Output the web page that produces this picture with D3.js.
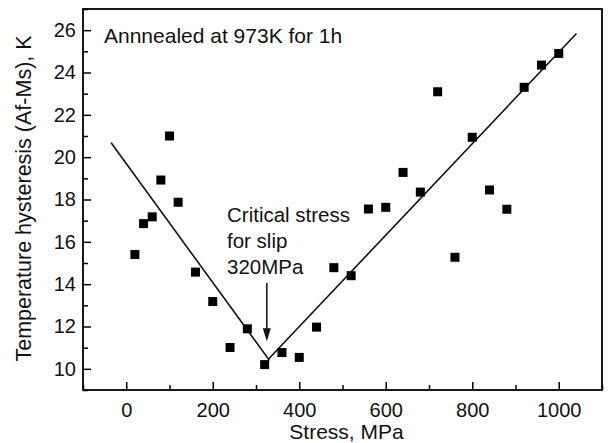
<!DOCTYPE html>
<html>
<head>
<meta charset="utf-8">
<script src="https://cdn.jsdelivr.net/npm/d3@7"></script>
<style>
  html, body { margin: 0; padding: 0; background: #fff; }
  svg { display: block; font-family: "Liberation Sans", Arial, Helvetica, sans-serif; }
</style>
</head>
<body>
<svg id="chart" width="609" height="443"></svg>
<script>
// ---- data ----
const stress = [20, 40, 60, 80, 100, 120, 160, 200, 240, 280, 320, 360, 400, 440, 480, 520, 560, 600, 640, 680, 720, 760, 800, 840, 880, 920, 960, 1000];
const hysteresis = [15.4, 16.86, 17.18, 18.92, 21.0, 17.87, 14.57, 13.18, 11.01, 11.89, 10.2, 10.77, 10.54, 11.97, 14.78, 14.4, 17.55, 17.63, 19.28, 18.35, 23.09, 15.27, 20.94, 18.45, 17.54, 23.3, 24.35, 24.9];
const fitLeftX = [-35, 331];
const fitLeftY = [20.68, 10.4];
const fitRightX = [328, 1041];
const fitRightY = [10.44, 25.84];
const arrowX = [325, 325];
const arrowY = [14.05, 11.3];
const xTicks = [0, 200, 400, 600, 800, 1000];
const xMinor = [-100, 100, 300, 500, 700, 900, 1100];
const yTicks = [10, 12, 14, 16, 18, 20, 22, 24, 26];
const yMinor = [9, 11, 13, 15, 17, 19, 21, 23, 25, 27];
const titleText = "Annnealed at 973K for 1h";
const noteLines = ["Critical stress", "for slip", "320MPa"];
const xLabel = "Stress, MPa";
const yLabel = "Temperature hysteresis (Af-Ms), K";

// ---- layout ----
const L = 83, R = 602, T = 9, B = 390;
const svg = d3.select("#chart");
const x = d3.scaleLinear().domain([-100, 1100]).range([L, R]);
const y = d3.scaleLinear().domain([9, 27]).range([B, T]);

// minor ticks
svg.append("g").attr("transform", `translate(0,${B})`)
  .call(d3.axisBottom(x).tickValues(xMinor).tickSize(-5).tickFormat(""))
  .call(g => g.select(".domain").remove())
  .selectAll("line").attr("stroke", "#000").attr("stroke-width", 1.5);
svg.append("g").attr("transform", `translate(${L},0)`)
  .call(d3.axisLeft(y).tickValues(yMinor).tickSize(-5).tickFormat(""))
  .call(g => g.select(".domain").remove())
  .selectAll("line").attr("stroke", "#000").attr("stroke-width", 1.5);

// major ticks
const xa = svg.append("g").attr("transform", `translate(0,${B})`)
  .call(d3.axisBottom(x).tickValues(xTicks).tickSize(-8).tickPadding(13).tickFormat(d3.format("d")));
xa.select(".domain").remove();
xa.selectAll("line").attr("stroke", "#000").attr("stroke-width", 1.5);
xa.selectAll("text").attr("font-size", 20).attr("fill", "#111").attr("font-family", "Liberation Sans, Arial, sans-serif");

const ya = svg.append("g").attr("transform", `translate(${L},0)`)
  .call(d3.axisLeft(y).tickValues(yTicks).tickSize(-8).tickPadding(7).tickFormat(d3.format("d")));
ya.select(".domain").remove();
ya.selectAll("line").attr("stroke", "#000").attr("stroke-width", 1.5);
ya.selectAll("text").attr("font-size", 20).attr("fill", "#111").attr("font-family", "Liberation Sans, Arial, sans-serif");

// frame
svg.append("rect").attr("x", L).attr("y", T).attr("width", R - L).attr("height", B - T)
  .attr("fill", "none").attr("stroke", "#000").attr("stroke-width", 1.8);

// fit lines
const line = d3.line().x(d => x(d[0])).y(d => y(d[1]));
svg.append("path").datum(d3.zip(fitLeftX, fitLeftY)).attr("d", line)
  .attr("fill", "none").attr("stroke", "#111").attr("stroke-width", 1.6);
svg.append("path").datum(d3.zip(fitRightX, fitRightY)).attr("d", line)
  .attr("fill", "none").attr("stroke", "#111").attr("stroke-width", 1.6);

// points
const sz = 9;
svg.append("g").selectAll("rect").data(d3.zip(stress, hysteresis)).join("rect")
  .attr("x", d => x(d[0]) - sz / 2).attr("y", d => y(d[1]) - sz / 2)
  .attr("width", sz).attr("height", sz).attr("fill", "#000");

// arrow
const ax0 = x(arrowX[0]), ay0 = y(arrowY[0]), ay1 = y(arrowY[1]);
svg.append("line").attr("x1", ax0).attr("y1", ay0).attr("x2", ax0).attr("y2", ay1 - 10)
  .attr("stroke", "#111").attr("stroke-width", 1.5);
svg.append("path")
  .attr("d", `M${ax0 - 4},${ay1 - 13} L${ax0 + 4},${ay1 - 13} L${ax0},${ay1} Z`)
  .attr("fill", "#111");

// annotation text
const note = svg.append("text").attr("x", 227).attr("y", 222)
  .attr("font-size", 20.5).attr("fill", "#111");
noteLines.forEach((t, i) => {
  note.append("tspan").attr("x", 227).attr("y", 222 + i * 25.8).text(t);
});

// title inside plot
svg.append("text").attr("x", 104).attr("y", 42.5).attr("font-size", 21).attr("fill", "#111").text(titleText);

// axis labels
svg.append("text").attr("x", (L + R) / 2 + 4).attr("y", 439).attr("text-anchor", "middle")
  .attr("font-size", 21).attr("fill", "#111").text(xLabel);
svg.append("text").attr("transform", `translate(30.5,${(T + B) / 2 - 1}) rotate(-90)`)
  .attr("text-anchor", "middle").attr("font-size", 21.5).attr("fill", "#111").text(yLabel);
</script>
</body>
</html>
